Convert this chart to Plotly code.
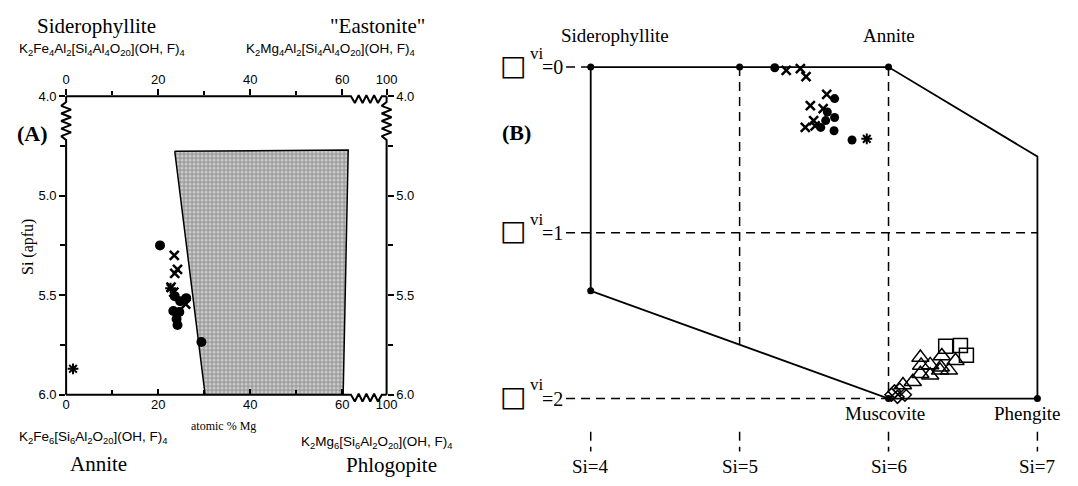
import plotly.graph_objects as go

W, H = 1078, 486

# ---------------- Panel A data (atomic % Mg vs Si apfu) ----------------
a_dot_mg = [20.4, 23.6, 26.1, 23.3, 24.6, 24.0, 24.2, 29.4, 24.8]
a_dot_si = [5.25, 5.505, 5.515, 5.58, 5.585, 5.62, 5.65, 5.735, 5.53]
a_x_mg = [23.5, 24.2, 23.6, 22.8, 23.4, 26.0]
a_x_si = [5.30, 5.37, 5.39, 5.46, 5.485, 5.545]
a_star_mg = [1.5, 22.7]
a_star_si = [5.87, 5.465]
field_mg = [23.6, 61.3, 60.2, 30.2, 23.6]
field_si = [4.777, 4.77, 6.0, 6.0, 4.777]
a_tick_pos = [0, 20, 40, 60, 69.64]
a_tick_text = ["0", "20", "40", "60", "100"]
a_minor = [10, 30, 50]
a_y_pos = [4.5, 5.0, 5.5, 6.0]
a_y_text = ["4.0", "5.0", "5.5", "6.0"]
a_y_minor = [4.75, 5.25, 5.75]

# ---------------- Panel B data (Si vs octahedral vacancy) ----------------
b_dot_si = [5.236, 5.638, 5.589, 5.638, 5.578, 5.545, 5.634, 5.755]
b_dot_vi = [0.004, 0.19, 0.271, 0.304, 0.323, 0.364, 0.384, 0.44]
b_x_si = [5.313, 5.408, 5.446, 5.585, 5.475, 5.561, 5.497, 5.441, 5.507]
b_x_vi = [0.02, 0.01, 0.057, 0.164, 0.232, 0.251, 0.323, 0.364, 0.355]
b_star_si = [5.854]
b_star_vi = [0.433]
b_sq_si = [6.384, 6.483, 6.523]
b_sq_vi = [1.684, 1.68, 1.739]
b_tri_si = [6.214, 6.358, 6.45, 6.219, 6.28, 6.351, 6.406, 6.214, 6.28, 6.346, 6.163, 6.097]
b_tri_vi = [1.753, 1.743, 1.772, 1.80, 1.797, 1.811, 1.83, 1.85, 1.86, 1.83, 1.899, 1.918]
b_dia_si = [6.02, 6.04, 6.075, 6.11, 6.06]
b_dia_vi = [1.977, 1.957, 1.947, 1.977, 1.99]
outline_si = [4, 6, 7, 7, 6, 4, 4]
outline_vi = [0, 0, 0.54, 2, 2, 1.35, 0]
vertex_si = [4, 5, 6, 4, 6, 7]
vertex_vi = [0, 0, 0, 1.35, 2, 2]
si_ticks = [4, 5, 6, 7]
vac_levels = [0, 1, 2]

SERIF = "Liberation Serif"
SANS = "Liberation Sans"

# pixel layout
A_L, A_R, A_T, A_B = 63, 388, 92, 400
B_L, B_R = 540, 1078

def px(x):
    return x / W

def py(y):
    return 1 - y / H

xmax = a_tick_pos[-1]
ppx = (A_R - A_L) / xmax          # px per mg unit
ppy = (A_B - A_T) / (6.0 - 4.5)   # px per si unit

def a2px(mg, si):
    return A_L + mg * ppx, A_T + (si - 4.5) * ppy

fig = go.Figure()

# ---- Panel A ----
fig.add_trace(go.Scatter(x=field_mg, y=field_si, mode="lines", fill="toself",
                         line=dict(color="black", width=1.5),
                         fillcolor="#b4b4b4",
                         fillpattern=dict(shape="+", size=4, solidity=0.45,
                                          fgcolor="#4a4a4a", bgcolor="#cdcdcd"),
                         xaxis="x", yaxis="y", showlegend=False, hoverinfo="skip"))

fig.add_trace(go.Scatter(x=a_dot_mg, y=a_dot_si, mode="markers",
                         marker=dict(symbol="circle", size=10, color="black"),
                         xaxis="x", yaxis="y", showlegend=False, cliponaxis=False))
fig.add_trace(go.Scatter(x=a_x_mg, y=a_x_si, mode="markers",
                         marker=dict(symbol="x-thin", size=9, line=dict(color="black", width=2.5)),
                         xaxis="x", yaxis="y", showlegend=False, cliponaxis=False))
fig.add_trace(go.Scatter(x=a_star_mg, y=a_star_si, mode="markers",
                         marker=dict(symbol="asterisk", size=9, line=dict(color="black", width=2)),
                         xaxis="x", yaxis="y", showlegend=False, cliponaxis=False))

# ---- Panel B ----
fig.add_trace(go.Scatter(x=outline_si, y=outline_vi, mode="lines",
                         line=dict(color="black", width=1.8),
                         xaxis="x3", yaxis="y3", showlegend=False, hoverinfo="skip"))

DASH = "9px,6px"
x_a, y_a, x_b, y_b = outline_si[5], outline_vi[5], outline_si[4], outline_vi[4]
vi_at5 = y_a + (5 - x_a) * (y_b - y_a) / (x_b - x_a)
b_ppx = (1048 - 595) / 3
b_ppy = (404 - 62) / 2
lab_si = 4 - 25 / b_ppx
dashed = [([5, 5], [0, vi_at5]), ([6, 6], [0, 2]),
          ([lab_si, 4], [0, 0]), ([lab_si, 7], [1, 1]), ([lab_si, 6], [2, 2])]
for s in si_ticks:
    dashed.append(([s, s], [2.2, 2.32]))
for sx, sy in dashed:
    fig.add_trace(go.Scatter(x=sx, y=sy, mode="lines",
                             line=dict(color="black", width=1.5, dash=DASH),
                             xaxis="x3", yaxis="y3", showlegend=False, hoverinfo="skip"))

fig.add_trace(go.Scatter(x=vertex_si, y=vertex_vi, mode="markers",
                         marker=dict(symbol="circle", size=7, color="black"),
                         xaxis="x3", yaxis="y3", showlegend=False))
fig.add_trace(go.Scatter(x=b_dia_si, y=b_dia_vi, mode="markers",
                         marker=dict(symbol="diamond-open", size=10, color="black", line=dict(width=1.5)),
                         xaxis="x3", yaxis="y3", showlegend=False))
fig.add_trace(go.Scatter(x=b_tri_si, y=b_tri_vi, mode="markers",
                         marker=dict(symbol="triangle-up-open", size=15, color="black", line=dict(width=1.5)),
                         xaxis="x3", yaxis="y3", showlegend=False))
fig.add_trace(go.Scatter(x=b_sq_si, y=b_sq_vi, mode="markers",
                         marker=dict(symbol="square-open", size=14, color="black", line=dict(width=1.5)),
                         xaxis="x3", yaxis="y3", showlegend=False))
fig.add_trace(go.Scatter(x=b_dot_si, y=b_dot_vi, mode="markers",
                         marker=dict(symbol="circle", size=9, color="black"),
                         xaxis="x3", yaxis="y3", showlegend=False))
fig.add_trace(go.Scatter(x=b_x_si, y=b_x_vi, mode="markers",
                         marker=dict(symbol="x-thin", size=9, line=dict(color="black", width=2.5)),
                         xaxis="x3", yaxis="y3", showlegend=False))
fig.add_trace(go.Scatter(x=b_star_si, y=b_star_vi, mode="markers",
                         marker=dict(symbol="asterisk", size=9, line=dict(color="black", width=2)),
                         xaxis="x3", yaxis="y3", showlegend=False))

# ---- Panel A frame with axis breaks (drawn on a full-figure pixel overlay) ----
def zig_h(x0, x1, y, n, amp):
    xs, ys = [x0], [y]
    step = (x1 - x0) / (2 * n)
    for i in range(1, 2 * n):
        xs.append(x0 + i * step)
        ys.append(y + amp * (1 if i % 2 else -1))
    xs.append(x1); ys.append(y)
    return xs, ys

def zig_v(x, y0, y1, n, amp):
    xs, ys = [x], [y0]
    step = (y1 - y0) / (2 * n)
    for i in range(1, 2 * n):
        ys.append(y0 + i * step)
        xs.append(x + amp * (-1 if i % 2 else 1))
    xs.append(x); ys.append(y1)
    return xs, ys

L, T0 = a2px(0, 4.5)
R, B0 = a2px(xmax, 6.0)
zx0, _ = a2px(61.9, 4.5)
zx1, _ = a2px(68.6, 4.5)
_, zy0 = a2px(0, 4.53)
_, zy1 = a2px(0, 4.72)
segs = []
zx, zy = zig_h(zx0, zx1, T0 + 3, 4, 4)
segs.append(([L, zx0] + zx[1:] + [R], [T0, T0] + zy[1:-1] + [T0, T0]))
zx, zy = zig_h(zx0, zx1, B0 + 3, 4, 4)
segs.append(([L, zx0] + zx[1:] + [R], [B0, B0] + zy[1:-1] + [B0, B0]))
zx, zy = zig_v(L, zy0, zy1, 5, 5)
segs.append(([L] + zx + [L], [T0] + zy + [B0]))
zx, zy = zig_v(R, zy0, zy1, 5, 5)
segs.append(([R] + zx + [R], [T0] + zy + [B0]))
for sx, sy in segs:
    fig.add_trace(go.Scatter(x=sx, y=sy, mode="lines", line=dict(color="black", width=2),
                             xaxis="x4", yaxis="y4", showlegend=False, hoverinfo="skip"))

# ---- axes ----
tickfont = dict(family=SANS, size=13, color="black")
xdom = [px(A_L), px(A_R)]
ydom = [py(A_B), py(A_T)]
x3_range = [4 - (595 - B_L) / b_ppx, 4 + (B_R - 595) / b_ppx]
y3_range = [(H - 62) / b_ppy, -62 / b_ppy]

fig.update_layout(
    width=W, height=H, margin=dict(l=0, r=0, t=0, b=0),
    paper_bgcolor="white", plot_bgcolor="rgba(0,0,0,0)",
    xaxis=dict(domain=xdom, range=[0, xmax], anchor="y", showline=False, showgrid=False,
               zeroline=False, tickvals=a_tick_pos, ticktext=a_tick_text, ticks="inside",
               ticklen=6, tickwidth=1.5, tickcolor="black", tickfont=tickfont,
               minor=dict(tickvals=a_minor, ticks="inside", ticklen=5, tickwidth=1.5, tickcolor="black")),
    xaxis2=dict(domain=xdom, range=[0, xmax], anchor="y", overlaying="x", side="top",
                showline=False, showgrid=False, zeroline=False, tickvals=a_tick_pos,
                ticktext=a_tick_text, ticks="outside", ticklen=6, tickwidth=1.5,
                tickcolor="black", tickfont=tickfont,
                minor=dict(tickvals=a_minor, ticks="outside", ticklen=4, tickwidth=1.5, tickcolor="black")),
    yaxis=dict(domain=ydom, range=[6.0, 4.5], anchor="x", showline=False, showgrid=False,
               zeroline=False, tickvals=a_y_pos, ticktext=a_y_text, ticks="outside",
               ticklen=6, tickwidth=1.5, tickcolor="black", tickfont=tickfont,
               minor=dict(tickvals=a_y_minor, ticks="outside", ticklen=5, tickwidth=1.5, tickcolor="black")),
    yaxis2=dict(domain=ydom, range=[6.0, 4.5], anchor="x", overlaying="y", side="right",
                showline=False, showgrid=False, zeroline=False, tickvals=a_y_pos,
                ticktext=a_y_text, ticks="outside", ticklen=6, tickwidth=1.5,
                tickcolor="black", tickfont=tickfont,
                minor=dict(tickvals=a_y_minor, ticks="outside", ticklen=5, tickwidth=1.5, tickcolor="black")),
    xaxis3=dict(domain=[px(B_L), 1], range=x3_range, anchor="y3", visible=False),
    yaxis3=dict(domain=[0, 1], range=y3_range, anchor="x3", visible=False),
    xaxis4=dict(domain=[0, 1], range=[0, W], anchor="y4", visible=False),
    yaxis4=dict(domain=[0, 1], range=[H, 0], anchor="x4", visible=False),
)
fig.add_trace(go.Scatter(x=[None], y=[None], xaxis="x2", yaxis="y2", showlegend=False))

# ---- text ----
ann = []

def T(text, x, y, size, family=SERIF, xanchor="center", textangle=0, bold=False):
    if bold:
        text = "<b>" + text + "</b>"
    ann.append(dict(text=text, x=px(x), y=py(y), xref="paper", yref="paper",
                    xanchor=xanchor, yanchor="middle", showarrow=False, textangle=textangle,
                    font=dict(family=family, size=size, color="black")))

sub = lambda s: "<sub>" + s + "</sub>"
T("Siderophyllite", 94, 20, 21)
T("\"Eastonite\"", 379, 20, 21)
T("K" + sub("2") + "Fe" + sub("4") + "Al" + sub("2") + "[Si" + sub("4") + "Al" + sub("4")
  + "O" + sub("20") + "](OH, F)" + sub("4"), 13, 44, 13.5, SANS, "left")
T("K" + sub("2") + "Mg" + sub("4") + "Al" + sub("2") + "[Si" + sub("4") + "Al" + sub("4")
  + "O" + sub("20") + "](OH, F)" + sub("4"), 243, 44, 13.5, SANS, "left")
T("K" + sub("2") + "Fe" + sub("6") + "[Si" + sub("6") + "Al" + sub("2")
  + "O" + sub("20") + "](OH, F)" + sub("4"), 13, 444, 13.5, SANS, "left")
T("K" + sub("2") + "Mg" + sub("6") + "[Si" + sub("6") + "Al" + sub("2")
  + "O" + sub("20") + "](OH, F)" + sub("4"), 299, 449, 13.5, SANS, "left")
T("Annite", 96, 472, 21)
T("Phlogopite", 393, 473, 21)
T("atomic % Mg", 223, 432, 12)
T("(A)", 29, 131, 22, bold=True)
T("Si (apfu)", 25, 248, 16, textangle=-90)

T("Siderophyllite", 620, 29, 19)
T("Annite", 897, 29, 19)
T("(B)", 520, 130, 22, bold=True)
T("Muscovite", 893, 419, 19)
T("Phengite", 1038, 419, 19)
for s in si_ticks:
    ann.append(dict(text="Si=%d" % s, x=s, y=2.41, xref="x3", yref="y3", showarrow=False,
                    xanchor="center", yanchor="middle",
                    font=dict(family=SERIF, size=19, color="black")))
for v in vac_levels:
    ypx = 62 + v * b_ppy
    ann.append(dict(text="□", x=px(516), y=py(ypx - 2), xref="paper", yref="paper",
                    showarrow=False, xanchor="center", yanchor="middle",
                    font=dict(family="DejaVu Sans", size=28, color="black")))
    ann.append(dict(text="vi", x=px(531), y=py(ypx - 14), xref="paper", yref="paper",
                    showarrow=False, xanchor="left", yanchor="middle",
                    font=dict(family=SERIF, size=17, color="black")))
    ann.append(dict(text="=%d" % v, x=px(544), y=py(ypx), xref="paper", yref="paper",
                    showarrow=False, xanchor="left", yanchor="middle",
                    font=dict(family=SERIF, size=20, color="black")))

fig.update_layout(annotations=ann)
fig.write_html("out.html")
